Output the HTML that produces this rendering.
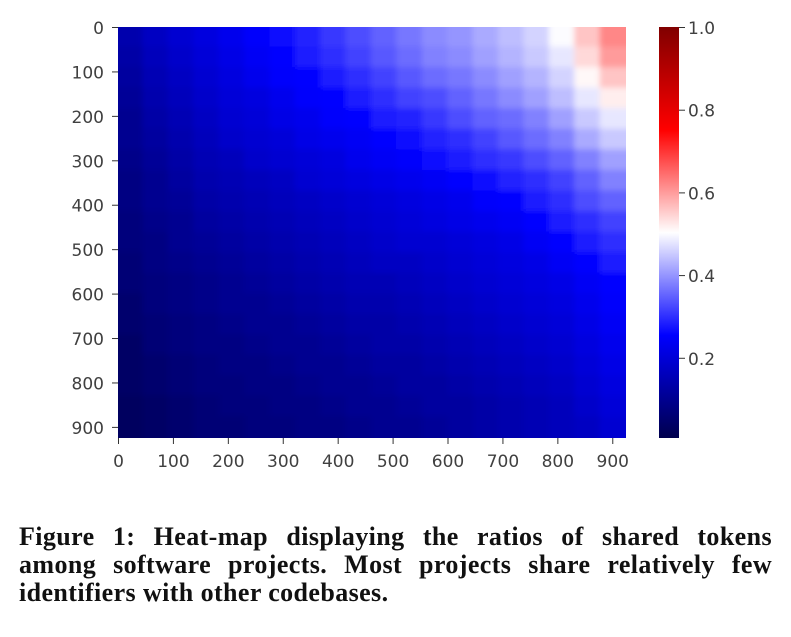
<!DOCTYPE html>
<html><head><meta charset="utf-8"><style>
html,body{margin:0;padding:0;background:#fff;width:791px;height:637px;overflow:hidden;position:relative}
svg{position:absolute;left:0;top:0}
#caption{position:absolute;left:19px;top:523px;width:753px;font-family:"Liberation Serif",serif;font-weight:bold;font-size:26px;line-height:28px;letter-spacing:0.4px;color:#111}
#caption .ln{display:block;white-space:nowrap;text-align:justify;text-align-last:justify}
#caption .last{text-align-last:left}
</style></head><body>
<svg id="chart" width="791" height="510" xmlns="http://www.w3.org/2000/svg">
<defs>
<linearGradient id="cbg" x1="0" y1="0" x2="0" y2="1">
<stop offset="0" stop-color="#800000"/><stop offset="0.25" stop-color="#ff0000"/><stop offset="0.5" stop-color="#ffffff"/><stop offset="0.75" stop-color="#0000ff"/><stop offset="1" stop-color="#00004d"/>
</linearGradient>
<filter id="soft" x="-0.1" y="-0.1" width="1.2" height="1.2"><feGaussianBlur stdDeviation="3"/></filter>
<clipPath id="hclip"><rect x="118" y="27" width="508" height="411"/></clipPath>
</defs>
<g id="cells" clip-path="url(#hclip)"></g>
<rect x="659" y="27" width="20" height="411" fill="url(#cbg)"/>
<g id="axes" font-family="DejaVu Sans, sans-serif" font-size="17" fill="#404040"></g>
</svg>
<div id="caption"><span class="ln">Figure 1: Heat-map displaying the ratios of shared tokens</span><span class="ln">among software projects. Most projects share relatively few</span><span class="ln last">identifiers with other codebases.</span></div>
<script>
const xTicks=[0,100,200,300,400,500,600,700,800,900];
const yTicks=[0,100,200,300,400,500,600,700,800,900];
const cbTicks=[0.2,0.4,0.6,0.8,1.0];
const cbLabels=["0.2","0.4","0.6","0.8","1.0"];
const nProjects=925;
const matrix=[
[.14,.17,.19,.21,.23,.25,.27,.29,.31,.33,.35,.37,.39,.40,.42,.44,.46,.50,.56,.62],
[.13,.16,.18,.20,.22,.24,.26,.28,.30,.32,.34,.36,.38,.39,.41,.43,.45,.48,.54,.60],
[.12,.15,.17,.19,.21,.23,.25,.26,.28,.30,.32,.34,.36,.37,.39,.41,.43,.46,.51,.56],
[.11,.14,.16,.18,.20,.21,.23,.25,.26,.28,.30,.32,.33,.35,.37,.39,.41,.44,.48,.52],
[.10,.13,.15,.17,.19,.20,.22,.23,.25,.26,.28,.29,.31,.33,.35,.36,.38,.41,.45,.48],
[.10,.12,.14,.16,.18,.19,.20,.22,.23,.24,.26,.27,.29,.30,.32,.34,.36,.38,.42,.45],
[.09,.11,.13,.15,.16,.18,.19,.20,.21,.23,.24,.25,.27,.28,.30,.31,.33,.35,.38,.41],
[.08,.10,.12,.14,.15,.16,.17,.19,.20,.21,.22,.23,.24,.26,.27,.29,.30,.32,.35,.38],
[.08,.10,.11,.13,.14,.15,.16,.17,.18,.19,.20,.21,.22,.23,.25,.26,.28,.30,.33,.35],
[.07,.09,.10,.12,.13,.14,.15,.16,.17,.18,.19,.20,.21,.22,.23,.24,.26,.28,.30,.32],
[.07,.08,.10,.11,.12,.13,.14,.15,.16,.17,.18,.19,.19,.20,.21,.22,.24,.26,.28,.30],
[.06,.08,.09,.10,.11,.12,.13,.14,.15,.16,.17,.17,.18,.19,.20,.21,.22,.24,.26,.28],
[.06,.07,.08,.09,.10,.11,.12,.13,.14,.15,.15,.16,.17,.18,.19,.20,.21,.22,.24,.26],
[.05,.07,.08,.09,.10,.10,.11,.12,.13,.14,.14,.15,.16,.17,.18,.19,.20,.21,.23,.25],
[.05,.06,.07,.08,.09,.10,.10,.11,.12,.13,.13,.14,.15,.16,.17,.18,.19,.20,.22,.24],
[.04,.06,.07,.08,.08,.09,.10,.10,.11,.12,.13,.13,.14,.15,.16,.17,.18,.19,.21,.23],
[.04,.05,.06,.07,.08,.08,.09,.10,.10,.11,.12,.12,.13,.14,.15,.16,.17,.18,.20,.22],
[.04,.05,.06,.07,.07,.08,.08,.09,.10,.10,.11,.12,.12,.13,.14,.15,.16,.17,.19,.21],
[.03,.04,.05,.06,.07,.07,.08,.08,.09,.10,.10,.11,.12,.12,.13,.14,.15,.16,.18,.20],
[.03,.04,.05,.06,.06,.07,.07,.08,.08,.09,.10,.10,.11,.12,.13,.14,.15,.16,.17,.19]
];
const NS="http://www.w3.org/2000/svg";
const X0=118,X1=626,Y0=27,Y1=438,VMIN=0.006,VMAX=1.0;
function xs(v){return X0+(v/nProjects)*(X1-X0);}
function ys(v){return Y0+(v/nProjects)*(Y1-Y0);}
function cbY(v){return Y1-(v-VMIN)/(VMAX-VMIN)*(Y1-Y0);}
function lerp(a,b,t){return a+(b-a)*t;}
function seismic(v){
  let t=(v-VMIN)/(VMAX-VMIN);t=Math.max(0,Math.min(1,t));
  const s=[[0,0,77],[0,0,255],[255,255,255],[255,0,0],[128,0,0]];
  const k=Math.min(3,Math.floor(t*4)),f=t*4-k;
  const c=s[k].map((a,i)=>Math.round(lerp(a,s[k+1][i],f)));
  return `rgb(${c[0]},${c[1]},${c[2]})`;
}
const cells=document.getElementById('cells');
const n=matrix.length,step=nProjects/n;
const g=document.createElementNS(NS,'g');
g.setAttribute('filter','url(#soft)');
cells.appendChild(g);
matrix.forEach((row,r)=>row.forEach((v,c)=>{
  const el=document.createElementNS(NS,'rect');
  let x=xs(c*step),y=ys(r*step),x2=xs((c+1)*step),y2=ys((r+1)*step);
  if(c===0)x-=12; if(r===0)y-=12; if(c===n-1)x2+=12; if(r===n-1)y2+=12;
  el.setAttribute('x',x-1);el.setAttribute('y',y-1);
  el.setAttribute('width',x2-x+2);el.setAttribute('height',y2-y+2);
  el.setAttribute('fill',seismic(v));
  
  
  g.appendChild(el);
}));
const axes=document.getElementById('axes');
function line(x1,y1,x2,y2){const l=document.createElementNS(NS,'line');l.setAttribute('x1',x1);l.setAttribute('y1',y1);l.setAttribute('x2',x2);l.setAttribute('y2',y2);l.setAttribute('stroke','#333');l.setAttribute('stroke-width','1');axes.appendChild(l);return l;}
function text(x,y,s,anchor){const t=document.createElementNS(NS,'text');t.setAttribute('x',x);t.setAttribute('y',y);t.setAttribute('text-anchor',anchor);t.textContent=s;axes.appendChild(t);return t;}
xTicks.forEach(v=>{const x=xs(v)+0.5;
  const l=line(x,Y1,x,Y1+6);
  
  
  const t=text(x,Y1+29,String(v),'middle');
  
  
});
yTicks.forEach(v=>{const y=ys(v)+0.5;
  const l=line(X0-6,y,X0,y);
  
  
  const t=text(X0-14,y+6.5,String(v),'end');
  
  
});
cbTicks.forEach((v,i)=>{const y=cbY(v)+0.5;
  const l=line(679,y,685,y);
  
  
  const t=text(688,y+6.5,cbLabels[i],'start');
  
  
});
</script>
</body></html>
